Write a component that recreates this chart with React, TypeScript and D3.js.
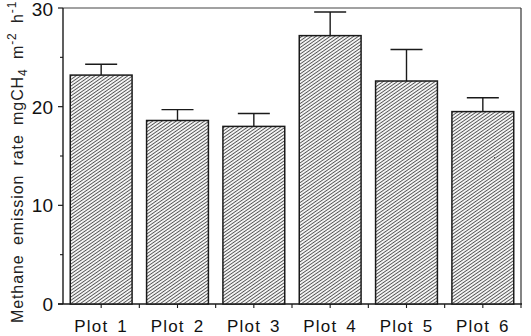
import React from "react";
import * as d3 from "d3";

const categories = ["Plot 1", "Plot 2", "Plot 3", "Plot 4", "Plot 5", "Plot 6"];
const means = [23.2, 18.6, 18.0, 27.2, 22.6, 19.5];
const upperErrors = [1.1, 1.1, 1.3, 2.4, 3.2, 1.4];
const majorTicks = [0, 10, 20, 30];
const minorTicks = [5, 15, 25];

const W = 531;
const H = 336;
const M = { left: 63, right: 10, top: 8, bottom: 32 };

export default function App() {
  const x = d3
    .scaleBand<string>()
    .domain(categories)
    .range([M.left, W - M.right])
    .paddingInner(0.19)
    .paddingOuter(0.095);
  const y = d3.scaleLinear().domain([0, 30]).range([H - M.bottom, M.top]);
  const x0 = M.left;
  const x1 = W - M.right;
  const y0 = y(0);
  const yTop = y(30);
  const step = x.step();
  const bw = x.bandwidth();
  const boundaries = categories.slice(1).map((c) => (x(c) as number) - (step - bw) / 2);
  const font = "'Liberation Sans', Arial, sans-serif";
  const stroke = "#1a1a1a";

  return (
    <svg
      width={W}
      height={H}
      style={{ position: "absolute", left: 0, top: 0, background: "#fff" }}
    >
      <defs>
        <pattern
          id="hatch"
          patternUnits="userSpaceOnUse"
          width={6}
          height={2.7}
          patternTransform="rotate(-35)"
        >
          <rect x={0} y={0} width={6} height={2.7} fill="#f4f4f4" />
          <rect x={0} y={0} width={6} height={0.9} fill="#555" />
        </pattern>
      </defs>

      {/* frame */}
      <line x1={x0} x2={x1} y1={yTop} y2={yTop} stroke="#444" strokeWidth={1.2} />
      <line x1={x1} x2={x1} y1={yTop} y2={y0} stroke="#333" strokeWidth={1.2} />
      <line x1={x0} x2={x0} y1={yTop} y2={y0} stroke={stroke} strokeWidth={1.4} />
      <line x1={x0 - 5} x2={x1 + 1} y1={y0} y2={y0} stroke={stroke} strokeWidth={1.4} />

      {/* y ticks */}
      {majorTicks.map((t) => (
        <g key={"mj" + t}>
          <line x1={x0 - 5} x2={x0} y1={y(t)} y2={y(t)} stroke={stroke} strokeWidth={1.2} />
          <text
            x={x0 - 10}
            y={t === 30 ? y(t) + 1 : y(t)}
            dy="0.36em"
            textAnchor="end"
            fontFamily={font}
            fontSize={19}
            fill="#111"
          >
            {t}
          </text>
        </g>
      ))}
      {minorTicks.map((t) => (
        <line key={"mn" + t} x1={x0 - 3} x2={x0} y1={y(t)} y2={y(t)} stroke={stroke} strokeWidth={1.1} />
      ))}

      {/* x ticks */}
      {categories.map((c) => (
        <line
          key={"xt" + c}
          x1={(x(c) as number) + bw / 2}
          x2={(x(c) as number) + bw / 2}
          y1={y0}
          y2={y0 + 4}
          stroke={stroke}
          strokeWidth={1.1}
        />
      ))}
      {boundaries.map((b, i) => (
        <line key={"xb" + i} x1={b} x2={b} y1={y0} y2={y0 + 4} stroke={stroke} strokeWidth={1.1} />
      ))}
      <line x1={x1} x2={x1} y1={y0} y2={y0 + 4} stroke={stroke} strokeWidth={1.1} />

      {/* bars */}
      {categories.map((c, i) => {
        const bx = x(c) as number;
        const cx = bx + bw / 2;
        const top = y(means[i]);
        const cap = y(means[i] + upperErrors[i]);
        return (
          <g key={"bar" + c}>
            <line x1={cx} x2={cx} y1={top} y2={cap} stroke={stroke} strokeWidth={1.4} />
            <line x1={cx - 16} x2={cx + 16} y1={cap} y2={cap} stroke={stroke} strokeWidth={1.4} />
            <rect
              x={bx}
              y={top}
              width={bw}
              height={y0 - top}
              fill="url(#hatch)"
              stroke={stroke}
              strokeWidth={1.5}
            />
          </g>
        );
      })}

      {/* x labels */}
      {categories.map((c) => (
        <text
          key={"xl" + c}
          x={(x(c) as number) + bw / 2}
          y={332}
          textAnchor="middle"
          fontFamily={font}
          fontSize={17}
          letterSpacing={1.2}
          wordSpacing={3}
          fill="#111"
        >
          {c}
        </text>
      ))}

      {/* y label */}
      <text
        transform="rotate(-90)"
        x={-323}
        y={23}
        textAnchor="start"
        fontFamily={font}
        fontSize={16}
        letterSpacing={0.9}
        wordSpacing={4}
        fill="#222"
      >
        Methane emission rate mgCH
        <tspan fontSize={12} dy={4}>4</tspan>
        <tspan dy={-4}> m</tspan>
        <tspan fontSize={12} dy={-7}>-2</tspan>
        <tspan dy={7}> h</tspan>
        <tspan fontSize={12} dy={-7}>-1</tspan>
      </text>
    </svg>
  );
}
